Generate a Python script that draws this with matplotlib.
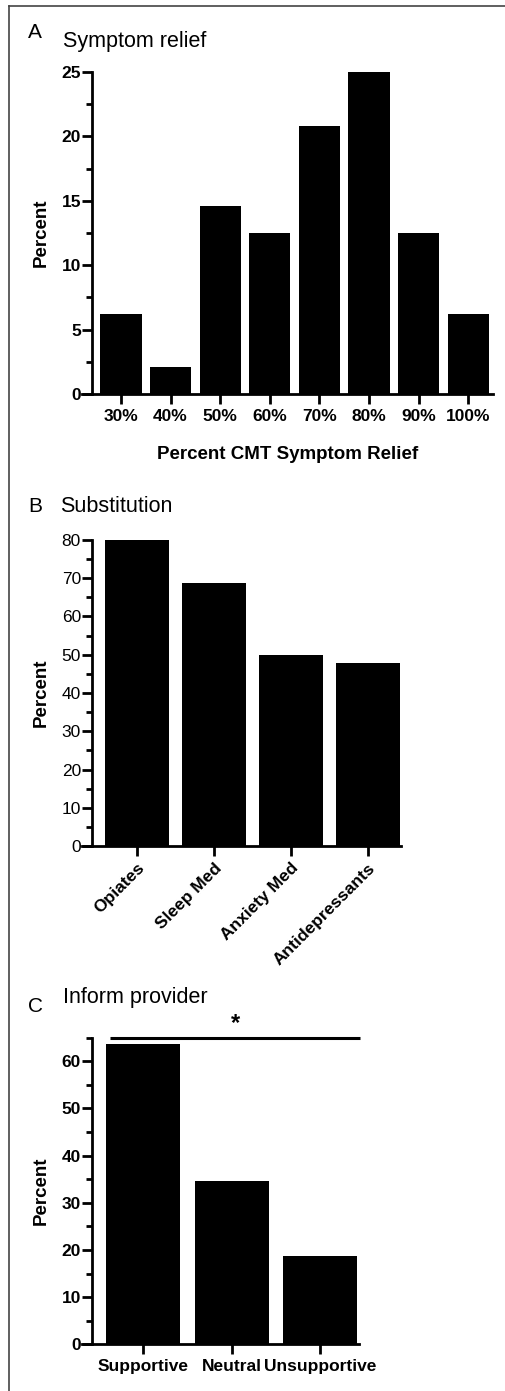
import numpy as np
import matplotlib
matplotlib.use("Agg")
import matplotlib.pyplot as plt
from matplotlib.lines import Line2D
from matplotlib.ticker import MultipleLocator

plt.rcParams["font.family"] = ["Liberation Sans", "DejaVu Sans"]

# Panel A - symptom relief
relief_labels = ["30%", "40%", "50%", "60%", "70%", "80%", "90%", "100%"]
relief_pct = [6.25, 2.08, 14.58, 12.5, 20.83, 25.0, 12.5, 6.25]

# Panel B - substitution
subst_labels = ["Opiates", "Sleep Med", "Anxiety Med", "Antidepressants"]
subst_pct = [80.0, 68.75, 50.0, 47.9]

# Panel C - inform provider
inform_labels = ["Supportive", "Neutral", "Unsupportive"]
inform_pct = [63.6, 34.6, 18.75]

W, H = 506, 1391
fig = plt.figure(figsize=(W / 100, H / 100), dpi=100)


def px_axes(left, right, top, bottom):
    return fig.add_axes([left / W, 1 - bottom / H, (right - left) / W, (bottom - top) / H])


def style(ax, spine_px, width_px, bold_y=True):
    ax.spines["top"].set_visible(False)
    ax.spines["right"].set_visible(False)
    ax.spines["left"].set_linewidth(2)
    ax.spines["bottom"].set_linewidth(2)
    ax.spines["left"].set_position(("axes", spine_px / width_px))
    ax.tick_params(axis="y", which="major", length=7, width=2, labelsize=12.5, pad=1)
    ax.tick_params(axis="y", which="minor", length=4, width=2)
    ax.tick_params(axis="x", which="major", length=7, width=2, labelsize=12.5)
    for t in ax.get_yticklabels():
        t.set_fontweight("bold" if bold_y else "normal")
    for t in ax.get_xticklabels():
        t.set_fontweight("bold")
    ax.set_ylabel("Percent", fontsize=13.5, fontweight="bold")
    # right edge of the rotated label sits at x = 50 px
    ax.yaxis.set_label_coords((50 - 82) / width_px, 0.5)


# ---- A ----
axA = px_axes(82, 493, 72, 394)
xa = np.arange(len(relief_pct))
axA.bar(xa, relief_pct, width=0.83, color="black")
axA.set_xlim(-0.786, 7.5)
axA.set_ylim(0, 25)
axA.set_xticks(xa)
axA.set_xticklabels(relief_labels)
axA.yaxis.set_major_locator(MultipleLocator(5))
axA.yaxis.set_minor_locator(MultipleLocator(2.5))
style(axA, 10, 411)
axA.set_xlabel("Percent CMT Symptom Relief", fontsize=13.5, fontweight="bold", labelpad=16)
fig.text(28 / W, 1 - 33 / H, "A", fontsize=15, va="center", ha="left")
fig.text(63 / W, 1 - 42 / H, "Symptom relief", fontsize=15.5, va="center", ha="left")

# ---- B ----
axB = px_axes(82, 401, 540, 846)
xb = np.arange(len(subst_pct))
axB.bar(xb, subst_pct, width=0.83, color="black")
axB.set_xlim(-0.714, 3.43)
axB.set_ylim(0, 80)
axB.set_xticks(xb)
axB.set_xticklabels(subst_labels, rotation=45, ha="right", rotation_mode="anchor")
axB.yaxis.set_major_locator(MultipleLocator(10))
axB.yaxis.set_minor_locator(MultipleLocator(5))
style(axB, 10, 319, bold_y=False)
fig.text(28 / W, 1 - 507 / H, "B", fontsize=15, va="center", ha="left")
fig.text(60 / W, 1 - 507 / H, "Substitution", fontsize=15.5, va="center", ha="left")

# ---- C ----
axC = px_axes(82, 359, 1037.7, 1344.3)
xc = np.arange(len(inform_pct))
axC.bar(xc, inform_pct, width=0.836, color="black")
axC.set_xlim(-0.689, 2.44)
axC.set_ylim(0, 65)
axC.set_xticks(xc)
axC.set_xticklabels(inform_labels)
axC.yaxis.set_major_locator(MultipleLocator(10))
axC.yaxis.set_minor_locator(MultipleLocator(5))
style(axC, 10, 277)
# significance bar
axC.plot([xc[0] - 0.37, xc[-1] + 0.45], [65, 65], color="black", lw=2.2, clip_on=False,
         solid_capstyle="butt")
axC.text(1.04, 65.6, "*", fontsize=17, fontweight="bold", ha="center", va="bottom")
fig.text(28 / W, 1 - 1007 / H, "C", fontsize=15, va="center", ha="left")
fig.text(63 / W, 1 - 998 / H, "Inform provider", fontsize=15.5, va="center", ha="left")

# frame lines (top and left)
fig.add_artist(Line2D([9 / W, 1], [1 - 5.5 / H, 1 - 5.5 / H], color="#444444", lw=1.2))
fig.add_artist(Line2D([9.5 / W, 9.5 / W], [0, 1 - 5.5 / H], color="#444444", lw=1.2))

fig.savefig("out.png", dpi=100)
